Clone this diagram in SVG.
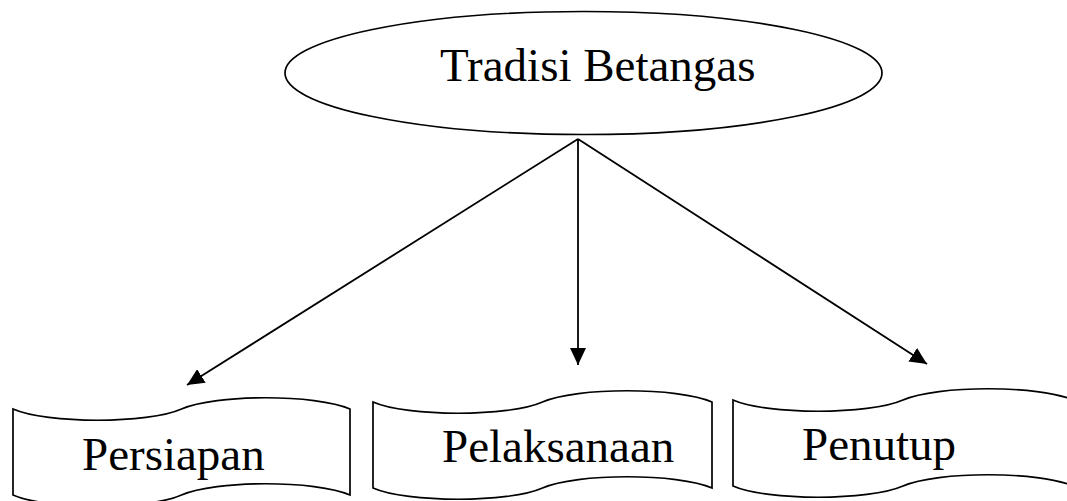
<svg xmlns="http://www.w3.org/2000/svg" width="1067" height="501" viewBox="0 0 1067 501">
<style>
.shape{fill:#fff;stroke:#000;stroke-width:1.7}
.lbl{font-family:"Liberation Serif","Times New Roman",serif;font-size:47px;fill:#000}
.conn{stroke:#000;stroke-width:1.8;fill:none;marker-end:url(#arr)}
</style>
<defs>
<marker id="arr" viewBox="0 0 17 16" refX="17" refY="8" markerWidth="17" markerHeight="16" orient="auto" markerUnits="userSpaceOnUse">
<path d="M0,0 L17,8 L0,16 Z" fill="#000"/>
</marker>
</defs>
<rect width="1067" height="501" fill="#fff"/>
<g id="root">
<ellipse class="shape" cx="583.5" cy="73" rx="298.5" ry="61.5"/>
<text class="lbl" x="440" y="81">Tradisi Betangas</text>
</g>
<g id="connectors">
<line class="conn" x1="578" y1="139" x2="187" y2="385"/>
<line class="conn" x1="578" y1="139" x2="578" y2="365"/>
<line class="conn" x1="578" y1="139" x2="927" y2="364"/>
</g>
<g id="persiapan">
<path class="shape" d="M13,409 C47,424 148,424 181.5,409 C215,394 316,394 350,409 L350,495 C316,480 215,480 181.5,495 C148,510 47,510 13,495 Z"/>
<text class="lbl" x="82" y="470">Persiapan</text>
</g>
<g id="pelaksanaan">
<path class="shape" d="M373,402 C407,417 509,417 542.5,402 C576,387 678,387 712,402 L712,488 C678,473 576,473 542.5,488 C509,503 407,503 373,488 Z"/>
<text class="lbl" x="442" y="462">Pelaksanaan</text>
</g>
<g id="penutup">
<path class="shape" d="M733,400 C767,415 869,415 903,400 C937,385 1039,385 1073,400 L1073,486 C1039,471 937,471 903,486 C869,501 767,501 733,486 Z"/>
<text class="lbl" x="802" y="460">Penutup</text>
</g>
</svg>
